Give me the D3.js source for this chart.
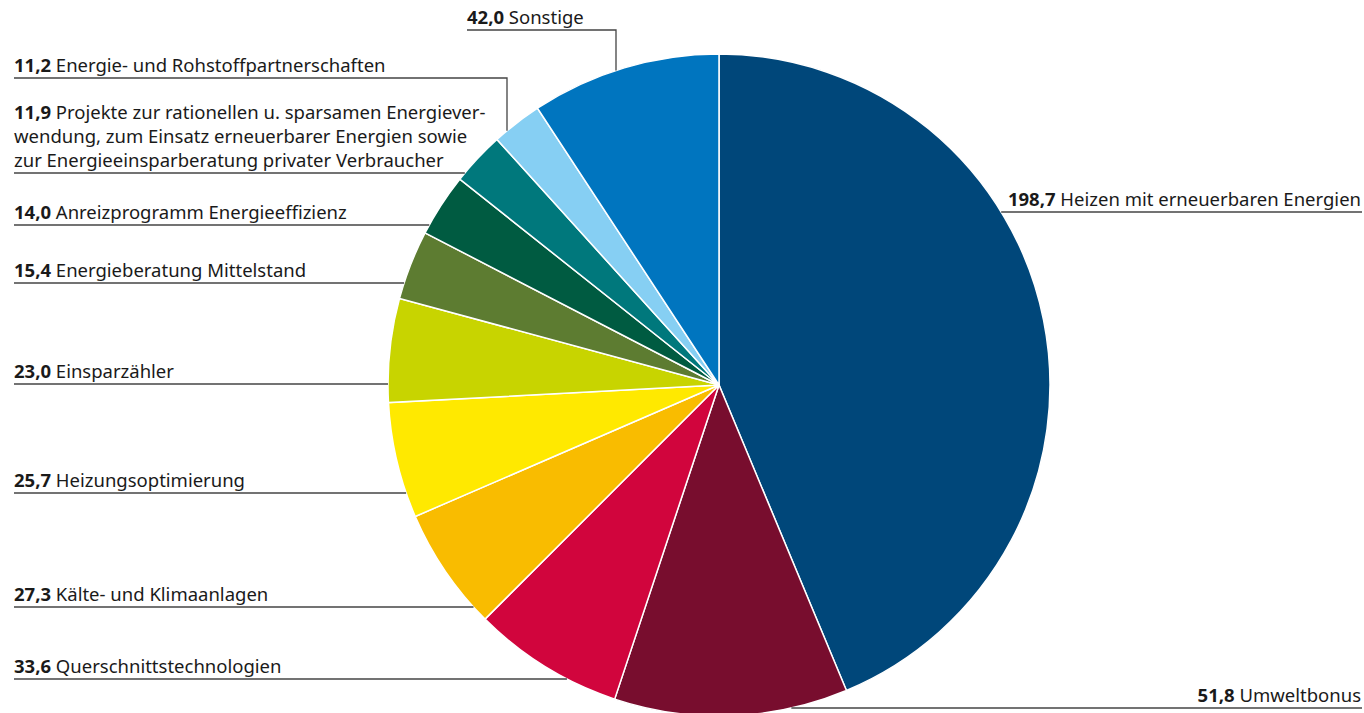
<!DOCTYPE html>
<html>
<head>
<meta charset="utf-8">
<script src="https://cdn.jsdelivr.net/npm/d3@7"></script>
<style>
  body { margin: 0; background: #fff; }
  text { font-family: "Noto Sans", Lato, sans-serif; fill: #1a1a1a; }
</style>
</head>
<body>
<div id="chart"></div>
<script>
// data, clockwise from 12 o'clock
const categories = [
  "Heizen mit erneuerbaren Energien",
  "Umweltbonus",
  "Querschnittstechnologien",
  "Kälte- und Klimaanlagen",
  "Heizungsoptimierung",
  "Einsparzähler",
  "Energieberatung Mittelstand",
  "Anreizprogramm Energieeffizienz",
  "Projekte zur rationellen u. sparsamen Energiever-|wendung, zum Einsatz erneuerbarer Energien sowie|zur Energieeinsparberatung privater Verbraucher",
  "Energie- und Rohstoffpartnerschaften",
  "Sonstige"
]
const values = [198.7, 51.8, 33.6, 27.3, 25.7, 23.0, 15.4, 14.0, 11.9, 11.2, 42.0]
const colors = ["#00477a", "#780d2e", "#d1053d", "#f9bc00", "#ffe900", "#c8d400",
                "#5d7c31", "#005b41", "#00787c", "#86cff3", "#0075bf"]

// label layout (underline y, side)
const labelY = [212, 708, 679, 607, 493, 384, 283, 225, 173, 78, 30]
const labelSide = ["right", "rightEnd", "left", "left", "left", "left", "left", "left", "left", "leftUp", "up"]

const WIDTH = 1364, HEIGHT = 713
const CX = 719, CY = 385, R = 331

const svg = d3.select("#chart").append("svg")
  .attr("width", WIDTH)
  .attr("height", HEIGHT)

const pie = d3.pie().sort(null).value(d => d)
const arc = d3.arc().innerRadius(0).outerRadius(R)

const g = svg.append("g").attr("transform", `translate(${CX}, ${CY})`)

g.selectAll("path")
  .data(pie(values))
  .enter().append("path")
  .attr("d", arc)
  .attr("fill", (d, i) => colors[i])
  .attr("stroke", "#fff")
  .attr("stroke-width", 1.5)

const fmt = v => d3.format(".1f")(v).replace(".", ",")
const edgeX = (y, dir) => CX + dir * Math.sqrt(Math.max(0, R * R - (y - CY) * (y - CY)))
const edgeY = x => CY - Math.sqrt(Math.max(0, R * R - (x - CX) * (x - CX)))

const lines = svg.append("g")
  .attr("stroke", "#444")
  .attr("stroke-width", 1.3)
  .attr("fill", "none")
const labels = svg.append("g").attr("font-size", 18.5)

function addLabel(x, baseline, i, anchor) {
  const parts = categories[i].split("|")
  const n = parts.length
  parts.forEach((p, k) => {
    const t = labels.append("text")
      .attr("x", x)
      .attr("y", baseline - (n - 1 - k) * 24)
      .attr("text-anchor", anchor)
    if (k === 0) {
      t.append("tspan").attr("font-weight", 700).text(fmt(values[i]))
      t.append("tspan").text(" " + p)
    } else {
      t.text(p)
    }
  })
}

values.forEach((v, i) => {
  const y = labelY[i]
  const side = labelSide[i]
  if (side === "left") {
    lines.append("path").attr("d", `M14,${y}H${edgeX(y, -1)}`)
    addLabel(14, y - 6, i, "start")
  } else if (side === "leftUp") {
    const vx = 507
    lines.append("path").attr("d", `M14,${y}H${vx}V${edgeY(vx)}`)
    addLabel(14, y - 6, i, "start")
  } else if (side === "up") {
    const vx = 616
    lines.append("path").attr("d", `M467,${y}H${vx}V${edgeY(vx)}`)
    addLabel(467, y - 6, i, "start")
  } else if (side === "right") {
    lines.append("path").attr("d", `M${edgeX(y, 1)},${y}H1362`)
    addLabel(1361, y - 6, i, "end")
  } else {
    lines.append("path").attr("d", `M${edgeX(y, 1)},${y}H1362`)
    addLabel(1361, y - 6, i, "end")
  }
})
</script>
</body>
</html>
